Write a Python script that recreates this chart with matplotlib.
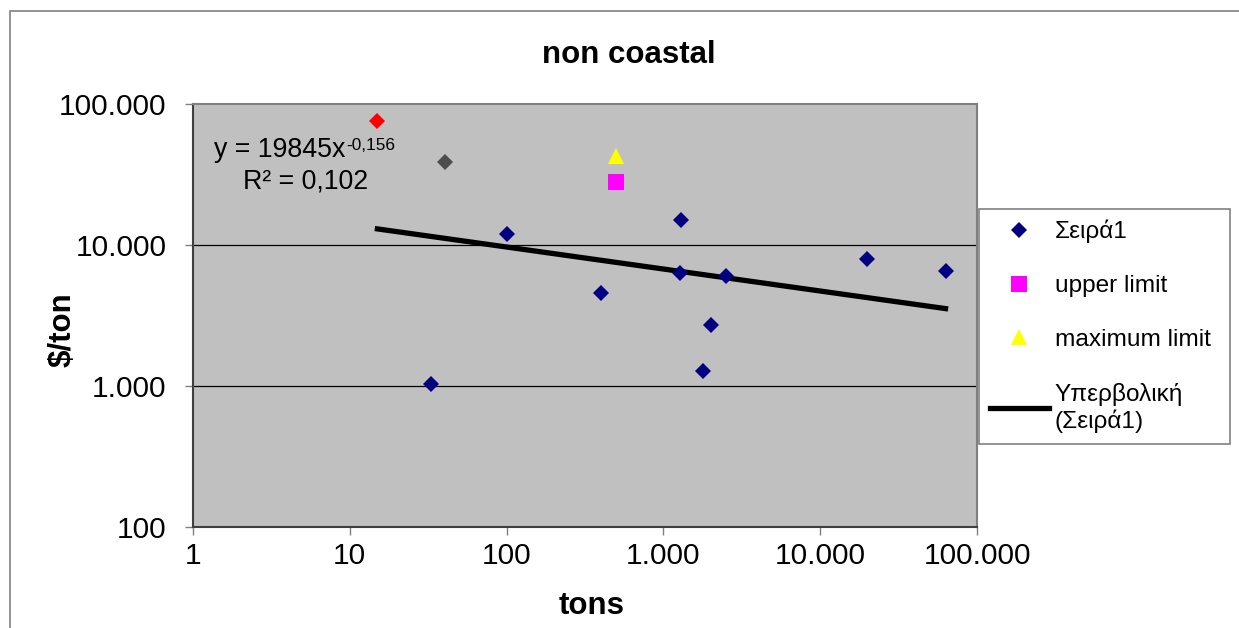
import matplotlib
matplotlib.use("Agg")
import matplotlib.pyplot as plt
import numpy as np
from matplotlib.patches import Rectangle
from matplotlib.lines import Line2D
from matplotlib.ticker import FixedLocator, FuncFormatter, NullLocator

plt.rcParams['font.family'] = ['Liberation Sans', 'DejaVu Sans']

# measured shipments (tons vs $/ton)
tons = [33, 100, 400, 1300, 1280, 2500, 2000, 1800, 20000, 63000]
cost = [1030, 12000, 4570, 15000, 6300, 6000, 2700, 1280, 7900, 6550]

# single highlighted points
red_pt = ([15], [75700])
grey_pt = ([40.5], [38800])
upper_limit = ([500], [28000])
maximum_limit = ([500], [42800])

# power trendline y = a * x^b
coef_a = 19845
coef_b = -0.156
r2 = 0.102

x_ticks = [1, 10, 100, 1000, 10000, 100000]
y_ticks = [100, 1000, 10000, 100000]


def thousands(v, pos=None):
    return f"{int(round(v)):,}".replace(",", ".")


fig = plt.figure(figsize=(12.39, 6.28), dpi=100)
ax = fig.add_axes([193 / 1239, 101 / 628, 784 / 1239, 423 / 628])
ax.set_facecolor('#c0c0c0')
ax.set_xscale('log')
ax.set_yscale('log')
ax.set_xlim(1, 100000)
ax.set_ylim(100, 100000)

ax.xaxis.set_major_locator(FixedLocator(x_ticks))
ax.yaxis.set_major_locator(FixedLocator(y_ticks))
ax.xaxis.set_minor_locator(NullLocator())
ax.yaxis.set_minor_locator(NullLocator())
ax.xaxis.set_major_formatter(FuncFormatter(thousands))
ax.yaxis.set_major_formatter(FuncFormatter(thousands))
ax.tick_params(axis='both', which='major', direction='out', length=6,
               width=1, color='#808080', labelsize=21.5)
ax.tick_params(axis='x', pad=5)
ax.tick_params(axis='y', pad=13)

for gy in y_ticks[1:-1]:
    ax.axhline(gy, color='black', lw=0.9, zorder=1)

for side in ['top', 'right']:
    ax.spines[side].set_color('#808080')
    ax.spines[side].set_linewidth(1.5)
for side in ['left', 'bottom']:
    ax.spines[side].set_color('#404040')
    ax.spines[side].set_linewidth(1.5)

# trendline over the span of the data
xt = np.logspace(np.log10(15), np.log10(63000), 100)
ax.plot(xt, coef_a * xt ** coef_b, color='black', lw=3.8, zorder=2)

ms_d = 8.5
ax.plot(tons, cost, 'D', color='#000080', ms=ms_d, mew=0, zorder=3)
ax.plot(*red_pt, 'D', color='#ff0000', ms=ms_d, mew=0, zorder=3)
ax.plot(*grey_pt, 'D', color='#4d4d4d', ms=ms_d, mew=0, zorder=3)
ax.plot(*upper_limit, 's', color='#ff00ff', ms=11, mew=0, zorder=3)
ax.plot(*maximum_limit, '^', color='#ffff00', ms=12, mew=0, zorder=3)

# trendline equation
ax.text(0.0268, 0.875, "y = %dx" % coef_a, transform=ax.transAxes,
        fontsize=19.3, ha='left', va='baseline')
ax.text(0.195, 0.891, ("%.3f" % coef_b).replace('.', ','), transform=ax.transAxes,
        fontsize=12.4, ha='left', va='baseline')
ax.text(0.0638, 0.801, "R² = " + ("%.3f" % r2).replace('.', ','),
        transform=ax.transAxes, fontsize=19.3, ha='left', va='baseline')

fig.text(629 / 1239, 1 - 55 / 628, "non coastal", fontsize=22.5,
         fontweight='bold', ha='center', va='center')
fig.text(592 / 1239, 1 - 606 / 628, "tons", fontsize=22.5,
         fontweight='bold', ha='center', va='center')
fig.text(63 / 1239, 1 - 330 / 628, "$/ton", fontsize=22.5,
         fontweight='bold', ha='center', va='center', rotation=90)

# legend
handles = [
    Line2D([], [], ls='none', marker='D', color='#000080', ms=ms_d, mew=0),
    Line2D([], [], ls='none', marker='s', color='#ff00ff', ms=11, mew=0),
    Line2D([], [], ls='none', marker='^', color='#ffff00', ms=12, mew=0),
    Line2D([], [], color='black', lw=3.8),
]
labels = ["Σειρά1", "upper limit", "maximum limit", "Υπερβολική\n(Σειρά1)"]
leg = fig.legend(handles, labels, loc='upper left',
                 bbox_to_anchor=(979 / 1239, 1 - 215 / 628, 251 / 1239, 0.01),
                 mode='expand', fontsize=17.6, frameon=True, fancybox=False,
                 edgecolor='#808080', framealpha=1, borderpad=0.45,
                 labelspacing=1.3, handlelength=2.4, handletextpad=0.25,
                 borderaxespad=0)
leg.get_frame().set_linewidth(1.2)

# outer chart border
fig.add_artist(Rectangle((10 / 1239, -0.05), 1.1, 1 - 11 / 628 + 0.05,
                         transform=fig.transFigure, fill=False,
                         edgecolor='#808080', lw=1.2))

fig.savefig("out.png", dpi=100)
